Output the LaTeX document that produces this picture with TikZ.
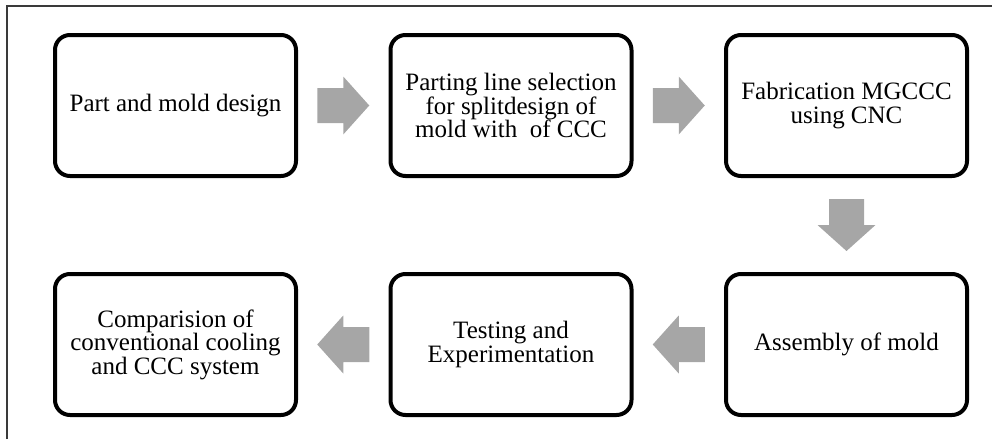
\documentclass[tikz,border=0pt]{standalone}
\usepackage{fontspec}
\setmainfont{Liberation Serif}
\usetikzlibrary{calc}
\definecolor{arrowgray}{HTML}{A6A6A6}
\definecolor{framegray}{HTML}{3A3A3A}
\tikzset{
  stepbox/.style={draw=black, line width=4pt, rounded corners=15pt, fill=white,
    minimum width=241pt, minimum height=141pt, inner sep=0pt, align=center,
    font=\fontsize{25pt}{23.5pt}\selectfont, text=black},
  blockarrow/.style={fill=arrowgray, draw=none},
}
\newcommand{\blockarrowat}[2]{%
  \fill[blockarrow, shift={(#1)}, rotate=#2]
    (-26,-17.5) -- (0,-17.5) -- (0,-29) -- (26,0) -- (0,29) -- (0,17.5) -- (-26,17.5) -- cycle;}
\begin{document}
\begin{tikzpicture}[x=1pt,y=-1pt]
\useasboundingbox (0,0) rectangle (992,439);
\draw[framegray, line width=1.2pt] (7,439) -- (7,6) -- (992,6);
\node[stepbox] (b1) at (175.5,105.5) {Part and mold design};
\node[stepbox] (b2) at (511,105.5) {Parting line selection\\for splitdesign of\\mold with\ \ of CCC};
\node[stepbox] (b3) at (846.5,105.5) {Fabrication MGCCC\\using CNC};
\node[stepbox] (b4) at (846.5,344.5) {Assembly of mold};
\node[stepbox] (b5) at (511,344.5) {Testing and\\Experimentation};
\node[stepbox] (b6) at (175.5,344.5) {Comparision of\\conventional cooling\\and CCC system};
\coordinate (m1) at ($(b1.east)!0.5!(b2.west)$);
\coordinate (m2) at ($(b2.east)!0.5!(b3.west)$);
\coordinate (m3) at ($(b3.south)!0.5!(b4.north)$);
\coordinate (m4) at ($(b4.west)!0.5!(b5.east)$);
\coordinate (m5) at ($(b5.west)!0.5!(b6.east)$);
\blockarrowat{m1}{0}
\blockarrowat{m2}{0}
\blockarrowat{m3}{-90}
\blockarrowat{m4}{180}
\blockarrowat{m5}{180}
\end{tikzpicture}
\end{document}
